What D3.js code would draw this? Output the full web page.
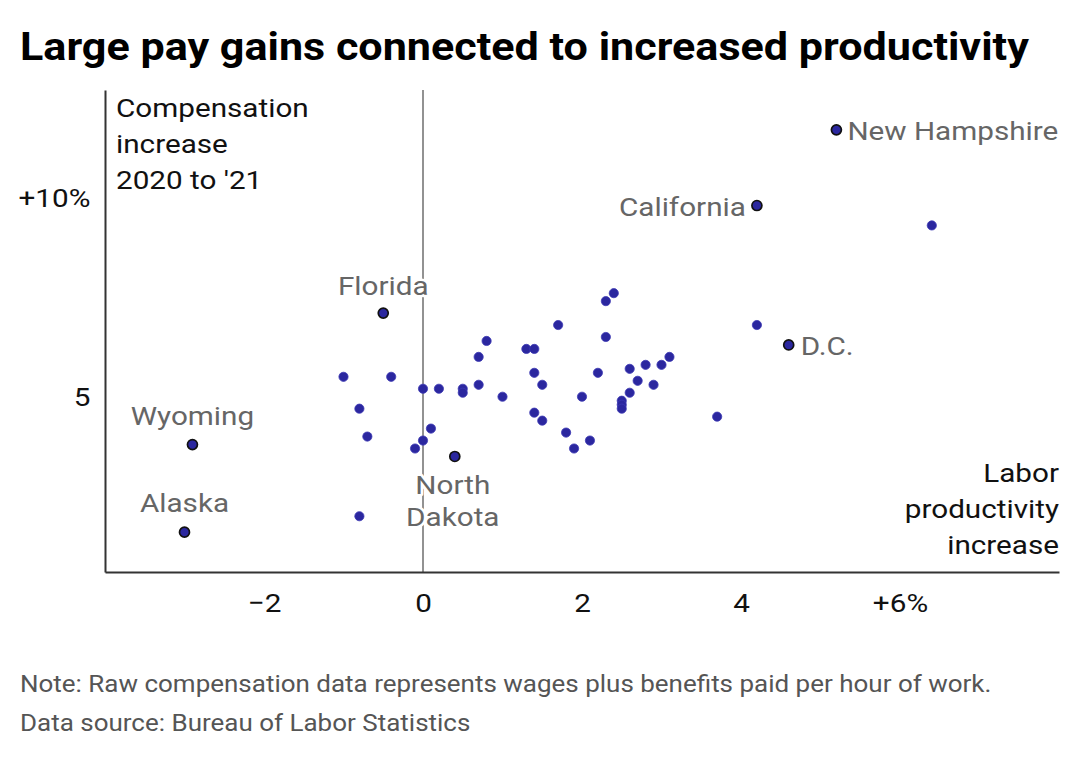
<!DOCTYPE html>
<html>
<head>
<meta charset="utf-8">
<script src="https://cdn.jsdelivr.net/npm/d3@7"></script>
<style>
body{margin:0;background:#fff;}
text{font-family:Roboto,"Noto Sans",sans-serif;}
</style>
</head>
<body>
<svg id="chart" width="1080" height="770"></svg>
<script>
// ---------- data ----------
var stateNames=["New Hampshire","California","","Florida","D.C.","Wyoming","North Dakota","Alaska",
  "","","","","","","","","","","","","","","","","","","","","","","","","","","","","","","","","","","","","","","","","","",""];
var productivity=[5.2,4.2,6.4,-0.5,4.6,-2.9,0.4,-3.0,
  -1.0,-0.4,0.0,0.2,-0.8,-0.7,0.1,0.0,-0.1,-0.8,0.5,0.5,0.7,0.7,0.8,1.0,1.3,1.4,1.4,1.5,1.4,1.5,
  1.7,1.8,1.9,2.0,2.1,2.2,2.3,2.4,2.3,2.5,2.5,2.5,2.6,2.6,2.7,2.8,2.9,3.0,3.1,3.7,4.2];
var compensation=[11.7,9.8,9.3,7.1,6.3,3.8,3.5,1.6,
  5.5,5.5,5.2,5.2,4.7,4.0,4.2,3.9,3.7,2.0,5.2,5.1,5.3,6.0,6.4,5.0,6.2,6.2,5.6,5.3,4.6,4.4,
  6.8,4.1,3.7,5.0,3.9,5.6,7.4,7.6,6.5,4.9,4.8,4.7,5.1,5.7,5.4,5.8,5.3,5.8,6.0,4.5,6.8];
var xTicks=[-2,0,2,4,6];
var xTickLabels=["\u22122","0","2","4","+6%"];
var yTicks=[5,10];
var yTickLabels=["5","+10%"];

//----------- setup -----------
var SX=1.12; // text in the picture is a little wide
var svg=d3.select("#chart");
var plotL=105, plotR=1059, plotT=90, plotB=572;

var x=d3.scaleLinear().domain([-4,8]).range([plotL,plotR]);
var y=d3.scaleLinear().domain([0.6,12.7]).range([plotB,plotT]);

function txt(g,px,py,str,size,fill,anchor,weight){
  return g.append("text")
    .attr("transform","translate("+px+","+py+") scale("+SX+",1)")
    .attr("text-anchor",anchor||"start")
    .style("font-size",size+"px")
    .style("font-weight",weight||400)
    .attr("fill",fill)
    .text(str);
}

// title
txt(svg,20,60,"Large pay gains connected to increased productivity",38.5,"#000","start",700);

// zero line
svg.append("line")
  .attr("x1",x(0)).attr("x2",x(0))
  .attr("y1",plotT).attr("y2",plotB)
  .attr("stroke","#777").attr("stroke-width",1.6);

// axes
var xAxis=d3.axisBottom(x).tickValues(xTicks).tickSize(0).tickPadding(21)
  .tickFormat(function(d,i){return xTickLabels[i];});
var yAxis=d3.axisLeft(y).tickValues(yTicks).tickSize(0).tickPadding(13)
  .tickFormat(function(d,i){return yTickLabels[i];});

var gx=svg.append("g").attr("transform","translate(0,"+plotB+")").call(xAxis);
var gy=svg.append("g").attr("transform","translate("+plotL+",0)").call(yAxis);
[gx,gy].forEach(function(g){
  g.select(".domain").attr("stroke","#333").attr("stroke-width",2);
  g.selectAll(".tick text")
    .style("font-size","26.5px").attr("fill","#111")
    .attr("transform","scale("+SX+",1)");
});

// axis annotations
["Compensation","increase","2020 to '21"].forEach(function(s,i){
  txt(svg,116,117+i*36,s,26.5,"#111","start");
});
["Labor","productivity","increase"].forEach(function(s,i){
  txt(svg,plotR,482+i*36,s,26.5,"#111","end");
});

// points
var pts=productivity.map(function(v,i){
  return {name:stateNames[i],px:v,cy:compensation[i]};
});
var plain=pts.filter(function(d){return !d.name;});
var named=pts.filter(function(d){return d.name;});

svg.append("g").selectAll("circle").data(plain).enter().append("circle")
  .attr("cx",function(d){return x(d.px);})
  .attr("cy",function(d){return y(d.cy);})
  .attr("r",4.6)
  .attr("fill","#2b279f")
  .attr("stroke","#3c38b4").attr("stroke-width",0.8);

svg.append("g").selectAll("circle").data(named).enter().append("circle")
  .attr("cx",function(d){return x(d.px);})
  .attr("cy",function(d){return y(d.cy);})
  .attr("r",5)
  .attr("fill","#2b279f")
  .attr("stroke","#111").attr("stroke-width",1.7);

// state labels
var labelStyle={
  "New Hampshire":{anchor:"start",dx:11,dy:[10]},
  "California":{anchor:"end",dx:-11,dy:[10]},
  "D.C.":{anchor:"start",dx:12,dy:[10]},
  "Florida":{anchor:"middle",dx:0,dy:[-18]},
  "Wyoming":{anchor:"middle",dx:0,dy:[-20]},
  "Alaska":{anchor:"middle",dx:0,dy:[-20]},
  "North Dakota":{anchor:"middle",dx:-2,dy:[38,70],lines:["North","Dakota"]}
};
var gl=svg.append("g");
named.forEach(function(d){
  var st=labelStyle[d.name];
  var lines=st.lines||[d.name];
  lines.forEach(function(s,i){
    txt(gl,x(d.px)+st.dx,y(d.cy)+st.dy[i],s,26.5,"#666",st.anchor)
      .attr("stroke","#fff").attr("stroke-width",5)
      .attr("paint-order","stroke").attr("stroke-linejoin","round");
  });
});

// notes
txt(svg,20,692,"Note: Raw compensation data represents wages plus benefits paid per hour of work.",23.2,"#555","start");
txt(svg,20,731,"Data source: Bureau of Labor Statistics",23.2,"#555","start");
</script>
</body>
</html>
